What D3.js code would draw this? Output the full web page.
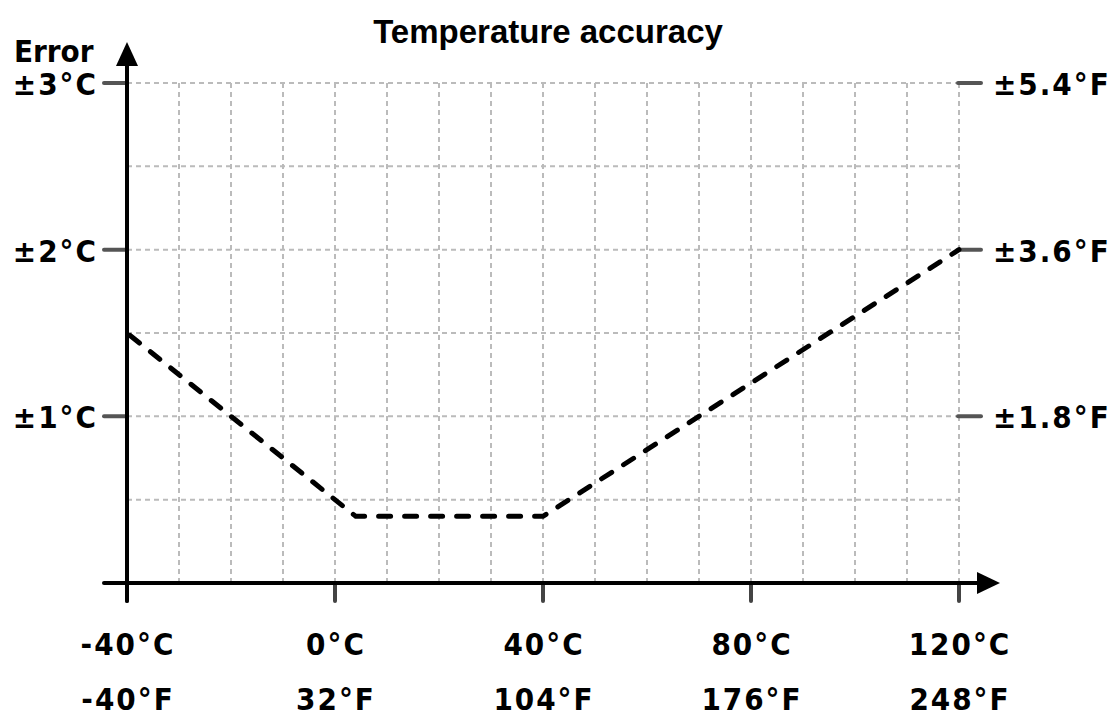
<!DOCTYPE html>
<html><head><meta charset="utf-8">
<script src="https://cdn.jsdelivr.net/npm/d3@7"></script>
<style>body{margin:0;background:#fff}svg{display:block}</style>
</head><body>
<svg id="c" width="1111" height="718"></svg>
<script>
const temps = [-40, 4, 40, 120];
const errors = [1.5, 0.4, 0.4, 2.0];
const xTicksC = ["-40°C", "0°C", "40°C", "80°C", "120°C"];
const xTicksF = ["-40°F", "32°F", "104°F", "176°F", "248°F"];
const xTickValues = [-40, 0, 40, 80, 120];
const yTickValues = [1, 2, 3];
const yTicksC = ["±1°C", "±2°C", "±3°C"];
const yTicksF = ["±1.8°F", "±3.6°F", "±5.4°F"];

const svg = d3.select("#c");
const x = d3.scaleLinear().domain([-40, 120]).range([127, 959]);
const y = d3.scaleLinear().domain([0, 3]).range([583, 83]);
const lblFont = "DejaVu Sans Condensed, DejaVu Sans, sans-serif";

// grid
const g = svg.append("g");
g.selectAll("line.v").data(d3.range(-30, 121, 10)).join("line")
  .attr("x1", d => x(d)).attr("x2", d => x(d)).attr("y1", y(3)).attr("y2", y(0))
  .attr("stroke", "#bbb").attr("stroke-width", 2).attr("stroke-dasharray", "5,4");
g.selectAll("line.h").data(d3.range(0.5, 3.01, 0.5)).join("line")
  .attr("x1", x(-40)).attr("x2", x(120)).attr("y1", d => y(d)).attr("y2", d => y(d))
  .attr("stroke", "#bbb").attr("stroke-width", 2).attr("stroke-dasharray", "5,4");

// ticks
svg.selectAll("line.xt").data(xTickValues).join("line")
  .attr("x1", d => x(d)).attr("x2", d => x(d)).attr("y1", y(0)).attr("y2", y(0) + 18)
  .attr("stroke", "#444").attr("stroke-width", 4).attr("stroke-linecap", "round");
svg.selectAll("line.ytl").data(yTickValues).join("line")
  .attr("x1", x(-40) - 23).attr("x2", x(-40)).attr("y1", d => y(d)).attr("y2", d => y(d))
  .attr("stroke", "#555").attr("stroke-width", 4).attr("stroke-linecap", "round");
svg.selectAll("line.ytr").data(yTickValues).join("line")
  .attr("x1", x(120) - 1).attr("x2", x(120) + 22).attr("y1", d => y(d)).attr("y2", d => y(d))
  .attr("stroke", "#555").attr("stroke-width", 4).attr("stroke-linecap", "round");

// axes
svg.append("line").attr("x1", x(-40)).attr("x2", x(-40)).attr("y1", y(0) + 18).attr("y2", 62)
  .attr("stroke", "#000").attr("stroke-width", 4).attr("stroke-linecap", "round");
svg.append("path").attr("d", `M${x(-40)},42 L${x(-40)-11},66 L${x(-40)+11},66 Z`).attr("fill", "#000");
svg.append("line").attr("x1", x(-40) - 23).attr("x2", 980).attr("y1", y(0)).attr("y2", y(0))
  .attr("stroke", "#000").attr("stroke-width", 4).attr("stroke-linecap", "round");
svg.append("path").attr("d", `M1000,${y(0)} L977,${y(0)-11} L977,${y(0)+11} Z`).attr("fill", "#000");

// data line
const line = d3.line().x((d, i) => x(temps[i])).y((d, i) => y(errors[i]));
svg.append("path").datum(errors).attr("d", line).attr("fill", "none")
  .attr("stroke", "#000").attr("stroke-width", 5).attr("stroke-dasharray", "12,14")
  .attr("stroke-linecap", "round").attr("stroke-dashoffset", -4);

// labels
const txt = (sel) => sel.attr("font-family", lblFont).attr("font-weight", "bold")
  .attr("font-stretch", "condensed")
  .attr("font-size", 31).attr("fill", "#000").attr("letter-spacing", 2);
txt(svg.selectAll("text.xc").data(xTickValues).join("text")
  .attr("x", d => x(d) + 1).attr("y", 655).attr("text-anchor", "middle").text((d, i) => xTicksC[i]));
txt(svg.selectAll("text.xf").data(xTickValues).join("text")
  .attr("x", d => x(d) + 1).attr("y", 710).attr("text-anchor", "middle").text((d, i) => xTicksF[i]));
txt(svg.selectAll("text.yc").data(yTickValues).join("text")
  .attr("x", 98).attr("y", d => y(d) + 12).attr("text-anchor", "end").text((d, i) => yTicksC[i]));
txt(svg.selectAll("text.yf").data(yTickValues).join("text")
  .attr("x", 993).attr("y", d => y(d) + 12).attr("text-anchor", "start").text((d, i) => yTicksF[i]));
txt(svg.append("text").attr("x", 14).attr("y", 62).text("Error")).attr("letter-spacing", 0);

svg.append("text").attr("x", 548).attr("y", 43).attr("text-anchor", "middle")
  .attr("font-family", "Liberation Sans, Arial, sans-serif").attr("font-weight", "bold")
  .attr("font-size", 33).text("Temperature accuracy");
</script>
</body></html>
